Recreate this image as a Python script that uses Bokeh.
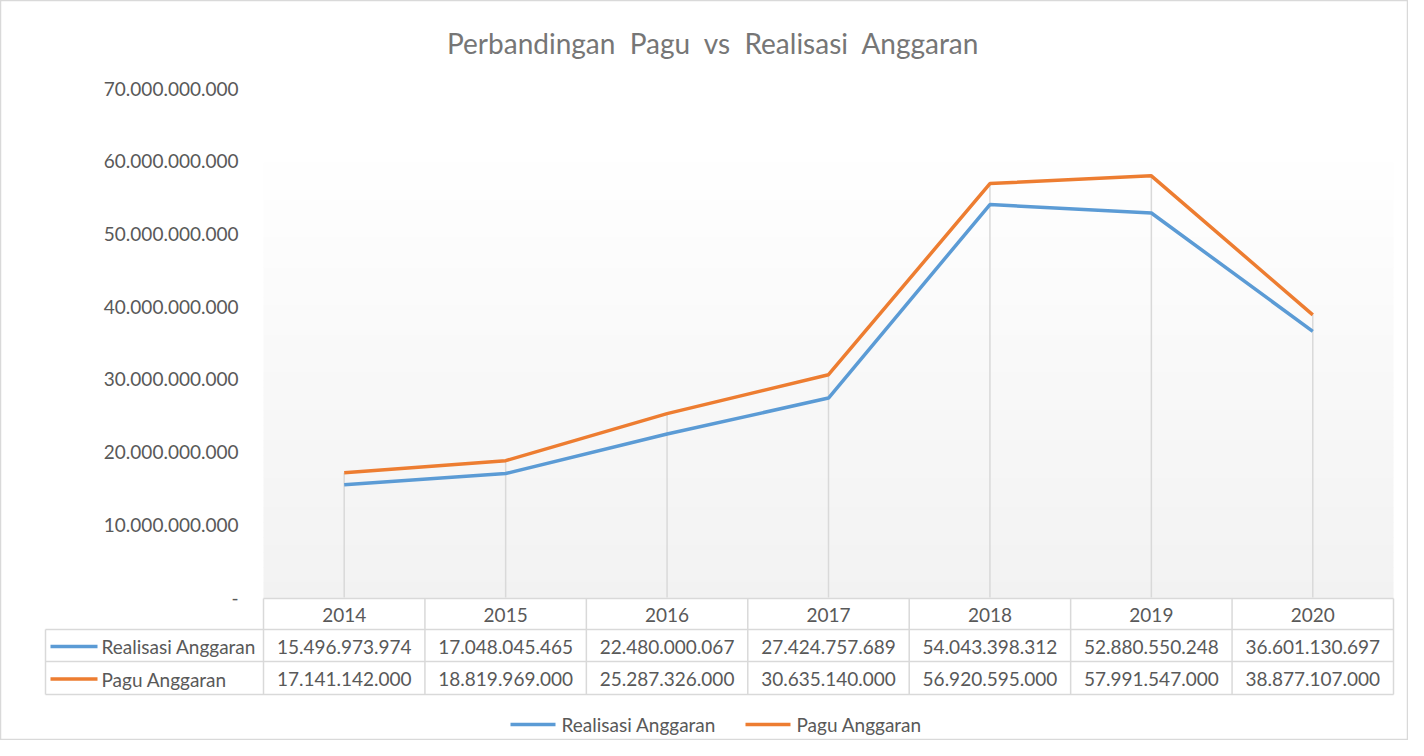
from bokeh.plotting import figure
from bokeh.models import Range1d
from bokeh.core.properties import value
from bokeh.embed import file_html
from bokeh.resources import INLINE

# ---- data ----
years = ["2014", "2015", "2016", "2017", "2018", "2019", "2020"]
realisasi = [15496973974, 17048045465, 22480000067, 27424757689,
             54043398312, 52880550248, 36601130697]
pagu = [17141142000, 18819969000, 25287326000, 30635140000,
        56920595000, 57991547000, 38877107000]
series_names = ["Realisasi Anggaran", "Pagu Anggaran"]
y_ticks = [0, 10e9, 20e9, 30e9, 40e9, 50e9, 60e9, 70e9]
y_tick_labels = ["-", "10.000.000.000", "20.000.000.000", "30.000.000.000",
                 "40.000.000.000", "50.000.000.000", "60.000.000.000",
                 "70.000.000.000"]
title_text = "Perbandingan\u00a0 Pagu\u00a0 vs\u00a0 Realisasi\u00a0 Anggaran"

BLUE = "#5B9BD5"
ORANGE = "#ED7D31"
TXT = "#595959"
TITLE_C = "#767676"
GRID = "#d9d9d9"
FONT = value("Lato")

# ---- layout constants (reference pixel space) ----
W, H = 1408, 740
PX0, PY0 = 0, 0
plot_left, plot_right = 263, 1393
zero_px, top_px = 597, 88
y_max = 70e9
n = len(years)
step = (plot_right - plot_left) / n
c0 = plot_left + step / 2

def fmt(v):
    return f"{v:,}".replace(",", ".")

x_start = (PX0 - c0) / step
x_end = (PX0 + W - c0) / step
vpp = y_max / (zero_px - top_px)
y_start = (zero_px - (PY0 + H)) * vpp
y_end = (zero_px - PY0) * vpp

p = figure(width=W, height=H, output_backend="svg", toolbar_location=None,
           x_range=Range1d(x_start, x_end), y_range=Range1d(y_start, y_end),
           x_axis_type=None, y_axis_type=None, min_border=0)
p.extra_x_ranges = {"px": Range1d(PX0, PX0 + W)}
p.extra_y_ranges = {"px": Range1d(PY0 + H, PY0)}
p.xgrid.visible = False
p.ygrid.visible = False
p.outline_line_color = GRID
p.outline_line_width = 1.5
p.background_fill_color = "white"
p.border_fill_color = "white"

# gradient plot-area background
grad_top = 147
nb = 60
bh = (zero_px - grad_top) / nb
tops, bots, cols = [], [], []
for k in range(nb):
    t = grad_top + k * bh
    tops.append(t)
    bots.append(t + bh + 0.5)
    g = int(round(255 - (255 - 242) * (k + 0.5) / nb))
    cols.append(f"#{g:02x}{g:02x}{g:02x}")
p.quad(left=plot_left, right=plot_right, top=tops, bottom=bots, fill_color=cols,
       line_color=None, x_range_name="px", y_range_name="px")

xs = list(range(n))

# drop lines
tops_v = [max(a, b) for a, b in zip(realisasi, pagu)]
p.segment(x0=xs, y0=[0] * n, x1=xs, y1=tops_v, line_color=GRID, line_width=1.5)

# series lines
p.line(xs, realisasi, line_color=BLUE, line_width=3.5)
p.line(xs, pagu, line_color=ORANGE, line_width=3.5)

# y tick labels
p.text(x=[238] * len(y_ticks), y=y_ticks, text=y_tick_labels, x_range_name="px",
       text_font=FONT, text_font_size="19px", text_color=TXT,
       text_align="right", text_baseline="middle")

# title
p.text(x=[713], y=[42], text=[title_text], x_range_name="px", y_range_name="px",
       text_font=FONT, text_font_size="28px", text_color=TITLE_C,
       text_align="center", text_baseline="middle")

# data table
row_lines = [598, 629, 661, 694]
left_col = 45
p.segment(x0=[plot_left] + [left_col] * 3, x1=[plot_right] * 4,
          y0=row_lines, y1=row_lines, x_range_name="px", y_range_name="px",
          line_color=GRID, line_width=1.5)
vx = [plot_left + k * step for k in range(n + 1)]
p.segment(x0=vx, x1=vx, y0=[row_lines[0]] * len(vx), y1=[row_lines[-1]] * len(vx),
          x_range_name="px", y_range_name="px", line_color=GRID, line_width=1.5)
p.segment(x0=[left_col], x1=[left_col], y0=[row_lines[1]], y1=[row_lines[-1]],
          x_range_name="px", y_range_name="px", line_color=GRID, line_width=1.5)

row_mid = [(row_lines[i] + row_lines[i + 1]) / 2 + 1 for i in range(3)]
p.text(x=xs, y=[row_mid[0]] * n, text=years, y_range_name="px",
       text_font=FONT, text_font_size="19px", text_color=TXT,
       text_align="center", text_baseline="middle")
p.text(x=xs, y=[row_mid[1]] * n, text=[fmt(v) for v in realisasi], y_range_name="px",
       text_font=FONT, text_font_size="19px", text_color=TXT,
       text_align="center", text_baseline="middle")
p.text(x=xs, y=[row_mid[2]] * n, text=[fmt(v) for v in pagu], y_range_name="px",
       text_font=FONT, text_font_size="19px", text_color=TXT,
       text_align="center", text_baseline="middle")

# table legend keys
p.segment(x0=[50, 50], x1=[97, 97], y0=row_mid[1:], y1=row_mid[1:],
          line_color=[BLUE, ORANGE], line_width=3.5,
          x_range_name="px", y_range_name="px")
p.text(x=[101, 101], y=row_mid[1:], text=series_names,
       x_range_name="px", y_range_name="px",
       text_font=FONT, text_font_size="19px", text_color=TXT,
       text_align="left", text_baseline="middle")

# bottom legend
p.segment(x0=[510, 745], x1=[555, 790], y0=[724, 724], y1=[724, 724],
          line_color=[BLUE, ORANGE], line_width=3.5,
          x_range_name="px", y_range_name="px")
p.text(x=[561, 796], y=[724, 724], text=series_names,
       x_range_name="px", y_range_name="px",
       text_font=FONT, text_font_size="19px", text_color=TXT,
       text_align="left", text_baseline="middle")

open("out.html", "w").write(file_html(p, INLINE))
